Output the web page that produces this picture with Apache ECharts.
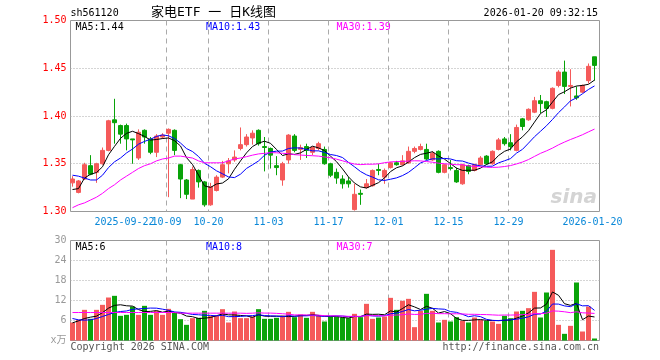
<!DOCTYPE html>
<html><head><meta charset="utf-8">
<script src="https://cdn.jsdelivr.net/npm/echarts@6/dist/echarts.min.js"></script>
<style>html,body{margin:0;padding:0;background:#fff}#c{width:660px;height:360px}</style>
</head><body><div id="c"></div>
<script>
// ---- data ----
const tickIndex = [9, 16, 23, 33, 43, 53, 63, 73, 87];
const tickLabels = ['2025-09-22', '10-09', '10-20', '11-03', '11-17', '12-01', '12-15', '12-29', '2026-01-20'];

const opens = [
1.330,1.320,1.334,1.348,1.341,1.350,1.364,1.396,1.390,1.390,
1.376,1.356,1.385,1.376,1.362,1.378,1.382,1.385,1.349,1.333,
1.313,1.343,1.331,1.307,1.322,1.336,1.350,1.354,1.366,1.370,
1.377,1.385,1.368,1.366,1.348,1.333,1.354,1.379,1.365,1.368,
1.362,1.366,1.365,1.350,1.341,1.334,1.332,1.302,1.319,1.325,
1.327,1.344,1.336,1.346,1.351,1.349,1.351,1.363,1.365,1.365,
1.354,1.363,1.341,1.346,1.343,1.329,1.348,1.343,1.349,1.358,
1.350,1.365,1.376,1.372,1.364,1.397,1.396,1.404,1.416,1.415,
1.408,1.432,1.446,1.431,1.421,1.425,1.437,1.462];
const closes = [
1.334,1.332,1.349,1.339,1.350,1.364,1.395,1.393,1.381,1.376,
1.375,1.383,1.378,1.362,1.379,1.380,1.386,1.364,1.334,1.318,
1.344,1.331,1.307,1.326,1.336,1.349,1.353,1.357,1.370,1.378,
1.382,1.371,1.367,1.359,1.346,1.350,1.380,1.364,1.367,1.364,
1.367,1.371,1.350,1.338,1.335,1.329,1.329,1.318,1.318,1.329,
1.343,1.343,1.343,1.351,1.349,1.353,1.363,1.366,1.368,1.355,
1.361,1.341,1.349,1.345,1.331,1.349,1.342,1.349,1.356,1.350,
1.363,1.375,1.371,1.368,1.388,1.389,1.407,1.416,1.413,1.408,
1.429,1.446,1.431,1.432,1.419,1.432,1.452,1.453];
const lows = [
1.326,1.319,1.333,1.338,1.330,1.349,1.363,1.371,1.371,1.364,
1.350,1.354,1.371,1.360,1.357,1.376,1.315,1.359,1.314,1.313,
1.313,1.325,1.305,1.306,1.321,1.335,1.340,1.352,1.364,1.368,
1.370,1.369,1.342,1.345,1.338,1.327,1.350,1.362,1.354,1.356,
1.359,1.364,1.349,1.336,1.329,1.324,1.325,1.301,1.307,1.324,
1.326,1.338,1.329,1.345,1.348,1.348,1.350,1.361,1.364,1.354,
1.353,1.340,1.340,1.343,1.330,1.328,1.339,1.342,1.348,1.349,
1.349,1.364,1.369,1.364,1.363,1.385,1.395,1.403,1.403,1.399,
1.407,1.430,1.423,1.410,1.417,1.424,1.434,1.437];
const highs = [
1.337,1.333,1.351,1.359,1.351,1.367,1.396,1.418,1.391,1.392,
1.376,1.386,1.386,1.378,1.381,1.382,1.387,1.386,1.350,1.334,
1.347,1.344,1.332,1.330,1.338,1.353,1.356,1.364,1.388,1.381,
1.385,1.386,1.378,1.367,1.358,1.352,1.381,1.381,1.370,1.371,
1.368,1.373,1.368,1.351,1.345,1.338,1.336,1.329,1.323,1.334,
1.344,1.350,1.345,1.352,1.353,1.359,1.368,1.368,1.371,1.371,
1.363,1.364,1.350,1.354,1.346,1.350,1.349,1.350,1.358,1.359,
1.364,1.377,1.378,1.381,1.391,1.398,1.408,1.420,1.422,1.416,
1.430,1.448,1.458,1.449,1.431,1.433,1.455,1.462];

const ma5 = [
1.323,1.324,1.335,1.339,1.3408,1.3468,1.3594,1.3682,1.3766,1.3818,
1.384,1.3816,1.3786,1.3748,1.3754,1.3764,1.377,1.3742,1.3686,1.3564,
1.3492,1.3382,1.3268,1.3252,1.3288,1.3298,1.3342,1.3442,1.353,1.3614,
1.368,1.3716,1.3736,1.3714,1.365,1.3586,1.3604,1.3598,1.3614,1.365,
1.3684,1.3666,1.3638,1.358,1.3522,1.3446,1.3362,1.3298,1.3258,1.3246,
1.3274,1.3302,1.3352,1.3418,1.3458,1.3478,1.3518,1.3564,1.3598,1.361,
1.3626,1.3582,1.3548,1.3502,1.3454,1.343,1.3432,1.3432,1.3454,1.3492,
1.352,1.3586,1.363,1.3654,1.373,1.3782,1.3846,1.3936,1.4026,1.4066,
1.4146,1.4224,1.4254,1.4292,1.4314,1.432,1.4332,1.4376];
const ma10 = [
1.338,1.337,1.335,1.333,1.333,1.338,1.346,1.352,1.356,1.3613,
1.3654,1.3705,1.3734,1.3757,1.3786,1.3802,1.3793,1.3764,1.3717,1.3659,
1.3628,1.3576,1.3505,1.3469,1.3426,1.3395,1.3362,1.3355,1.3391,1.3451,
1.3489,1.3529,1.3589,1.3622,1.3632,1.3633,1.366,1.3667,1.3664,1.365,
1.3635,1.3635,1.3618,1.3597,1.3586,1.3565,1.3514,1.3468,1.3419,1.3384,
1.336,1.3332,1.3325,1.3338,1.3352,1.3376,1.341,1.3458,1.3508,1.3534,
1.3552,1.355,1.3556,1.355,1.3532,1.3528,1.3507,1.349,1.3478,1.3473,
1.3475,1.3509,1.3531,1.3554,1.3611,1.3651,1.3716,1.3783,1.384,1.3898,
1.3964,1.4035,1.4095,1.4159,1.419,1.4233,1.4278,1.4315];
const ma30 = [
1.304,1.307,1.309,1.312,1.315,1.319,1.324,1.328,1.333,1.337,
1.341,1.345,1.348,1.350,1.353,1.355,1.356,1.358,1.358,1.357,
1.356,1.353,1.351,1.351,1.351,1.351,1.353,1.355,1.356,1.3574,
1.359,1.3603,1.3609,1.3616,1.3615,1.361,1.3605,1.3595,1.3591,1.3587,
1.3584,1.358,1.3571,1.3563,1.3548,1.3531,1.3512,1.3497,1.3491,1.3495,
1.3495,1.3499,1.3511,1.3519,1.3523,1.3525,1.3528,1.3531,1.353,1.3523,
1.3516,1.3506,1.35,1.3495,1.349,1.349,1.3477,1.3472,1.3468,1.3464,
1.3462,1.3464,1.3471,1.3481,1.3498,1.3518,1.3544,1.3577,1.3609,1.3635,
1.3664,1.3698,1.3727,1.3754,1.3778,1.3804,1.3834,1.3863];

const volumes = [
5.4,6.2,9.2,6.5,9.2,10.7,12.9,13.4,7.4,7.7,
10.2,7.7,10.4,7.7,8.9,7.7,9.5,8.4,6.4,4.7,
6.7,6.8,8.9,7.4,7.4,9.4,5.4,8.7,6.7,6.7,
7.2,9.4,6.5,6.5,6.8,7.4,8.6,7.0,7.8,6.8,
8.6,7.5,5.7,7.2,7.2,6.9,6.7,8.0,7.0,11.0,
6.5,6.9,7.2,12.8,9.2,11.9,12.5,4.0,8.9,14.0,
8.9,5.4,6.2,5.7,7.0,5.9,5.4,6.9,6.2,5.9,
5.7,5.0,7.4,6.7,8.7,8.9,9.7,14.6,6.9,14.4,
27.2,4.7,2.0,4.4,17.4,2.7,10.2,0.6];
const volMa5 = [
5.3,5.9,6.6,7.0,7.3,8.36,9.7,10.54,10.72,10.42,
10.32,9.28,8.68,8.74,8.98,8.48,8.84,8.44,8.18,7.34,
7.14,6.6,6.7,6.9,7.44,7.98,7.7,7.66,7.52,7.38,
6.94,7.74,7.3,7.26,7.28,7.32,7.16,7.26,7.52,7.52,
7.76,7.54,7.28,7.16,7.24,6.9,6.74,7.2,7.16,7.92,
7.84,7.88,7.72,8.88,8.52,9.6,10.72,10.08,9.3,10.26,
9.66,8.24,8.68,8.04,6.64,6.04,6.04,6.18,6.28,6.06,
6.02,5.94,6.04,6.14,6.7,7.34,8.28,9.72,9.76,10.9,
14.56,13.56,11.04,10.54,11.14,6.24,7.34,7.06];
const volMa10 = [
6.6,6.2,6.1,6.2,6.6,7.2,7.8,8.4,8.7,8.86,
9.34,9.49,9.61,9.73,9.7,9.4,9.06,8.56,8.46,8.16,
7.81,7.72,7.57,7.54,7.39,7.56,7.15,7.18,7.21,7.41,
7.46,7.72,7.48,7.39,7.33,7.13,7.45,7.28,7.39,7.4,
7.54,7.35,7.27,7.34,7.38,7.33,7.14,7.24,7.16,7.58,
7.37,7.31,7.46,8.02,8.22,8.72,9.3,8.9,9.09,9.39,
9.63,9.48,9.38,8.67,8.45,7.85,7.14,7.43,7.16,6.35,
6.03,5.99,6.11,6.21,6.38,6.68,7.11,7.88,7.95,8.8,
10.95,10.92,10.38,10.15,11.02,10.4,10.45,9.05];
const volMa30 = [
8.4,8.4,8.4,8.4,8.4,8.4,8.4,8.4,8.4,8.4,
8.4,8.4,8.4,8.4,8.4,8.4,8.4,8.4,8.2,8.2,
8.2,8.2,8.2,8.2,8.2,8.2,8.2,8.2,8.2,8.14,
8.2,8.31,8.22,8.22,8.14,8.03,7.89,7.67,7.69,7.66,
7.6,7.6,7.44,7.42,7.37,7.34,7.25,7.23,7.25,7.46,
7.46,7.46,7.4,7.58,7.64,7.73,7.96,7.81,7.88,8.12,
8.18,8.05,8.04,8.01,8.02,7.97,7.86,7.86,7.8,7.77,
7.68,7.59,7.65,7.63,7.68,7.75,7.85,8.07,8.07,8.18,
8.87,8.8,8.62,8.34,8.62,8.31,8.23,8.12];

const priceAxis = {min: 1.30, max: 1.50, step: 0.05};
const volAxis = {min: 0, max: 30, step: 6};

// ---- chart ----
const UP = '#f55a5a', DOWN = '#09a309';
const MONO = '"DejaVu Sans Mono", "Noto Sans CJK SC", monospace';
const FRAME = '#999', GRIDC = '#aaa';
const idx = opens.map((_, i) => i);
const candleData = idx.map(i => [i, opens[i], closes[i], lows[i], highs[i]]);
const volData = idx.map(i => ({value: [i, volumes[i]], itemStyle: {color: closes[i] >= opens[i] ? UP : DOWN}}));
const pts = arr => idx.map(i => [i, arr[i]]);

const OFF = 1 / 3;           // split lines sit just left of bar centres
const xMin = -OFF, xMax = 529 / 6 - OFF;
const tickPos = tickIndex.map(i => i - OFF);
const labelFor = v => { for (let k = 0; k < tickPos.length; k++) if (Math.abs(tickPos[k] - v) < 0.01) return tickLabels[k]; return ''; };
// labels split over two axes so that touching labels are both kept
const labelsA = tickPos.filter((_, k) => k !== 1);
const labelsB = [tickPos[1]];

const xAxisDef = (gi, labelVals, showSplit) => ({
  type: 'value', gridIndex: gi, min: xMin, max: xMax, position: 'bottom',
  axisLine: {show: false},
  axisTick: {show: false, customValues: showSplit ? tickPos : labelVals},
  axisLabel: {show: !!labelVals, customValues: labelVals || tickPos, formatter: labelFor, color: '#0a88d8',
              fontFamily: MONO, fontSize: 10, margin: 6, hideOverlap: false, showMinLabel: true, showMaxLabel: true},
  splitLine: {show: showSplit, showMinLine: false, showMaxLine: false, lineStyle: {color: GRIDC, type: [5, 4], width: 1}}
});

const line = (xi, data, color, name) => ({
  name, type: 'line', xAxisIndex: xi, yAxisIndex: xi, data, showSymbol: false, symbol: 'none',
  lineStyle: {color, width: 1}, silent: true, z: 3
});

const txt = (x, y, text, fill, align, size) => ({
  type: 'text', x, y, silent: true,
  style: {text, fill, font: (size || 10) + 'px ' + MONO, align: align || 'left', verticalAlign: 'middle'}
});

const chart = echarts.init(document.getElementById('c'), null, {renderer: 'canvas'});
chart.setOption({
  animation: false,
  backgroundColor: '#fff',
  grid: [
    {left: 70.5, top: 20.5, width: 529, height: 191, show: true, borderColor: FRAME, borderWidth: 1, backgroundColor: 'transparent'},
    {left: 70.5, top: 240.5, width: 529, height: 100, show: true, borderColor: FRAME, borderWidth: 1, backgroundColor: 'transparent'}
  ],
  xAxis: [xAxisDef(0, labelsA, true), xAxisDef(1, null, true), xAxisDef(0, labelsB, false)],
  yAxis: [
    {type: 'value', gridIndex: 0, min: priceAxis.min, max: priceAxis.max, interval: priceAxis.step,
     axisLine: {show: false}, axisTick: {show: false},
     axisLabel: {color: '#f00', fontFamily: MONO, fontSize: 10, margin: 4, formatter: v => v.toFixed(2)},
     splitLine: {show: true, showMinLine: false, showMaxLine: false, lineStyle: {color: GRIDC, type: [1, 2]}}},
    {type: 'value', gridIndex: 1, min: volAxis.min, max: volAxis.max, interval: volAxis.step,
     axisLine: {show: false}, axisTick: {show: false},
     axisLabel: {color: '#999', fontFamily: MONO, fontSize: 10, margin: 4, formatter: v => v === 0 ? 'x万' : String(v)},
     splitLine: {show: true, showMinLine: false, showMaxLine: false, lineStyle: {color: GRIDC, type: [1, 2]}}}
  ],
  series: [
    {type: 'candlestick', xAxisIndex: 0, yAxisIndex: 0, data: candleData, barWidth: 5, z: 2,
     itemStyle: {color: UP, color0: DOWN, borderColor: UP, borderColor0: DOWN, borderWidth: 1}},
    line(0, pts(ma5), '#000', 'MA5'),
    line(0, pts(ma10), '#0000ff', 'MA10'),
    line(0, pts(ma30), '#ff00ff', 'MA30'),
    {type: 'bar', xAxisIndex: 1, yAxisIndex: 1, data: volData, barWidth: 5, z: 2},
    line(1, pts(volMa5), '#000', 'VMA5'),
    line(1, pts(volMa10), '#0000ff', 'VMA10'),
    line(1, pts(volMa30), '#ff00ff', 'VMA30')
  ],
  graphic: [
    txt(70.5, 13, 'sh561120', '#000'),
    txt(151, 13, '家电ETF 一 日K线图', '#000', 'left', 13),
    txt(598, 13, '2026-01-20 09:32:15', '#000', 'right'),
    txt(75.5, 27, 'MA5:1.44', '#000'),
    txt(206, 27, 'MA10:1.43', '#0000ff'),
    txt(336.5, 27, 'MA30:1.39', '#ff00ff'),
    txt(75.5, 247, 'MA5:6', '#000'),
    txt(206, 247, 'MA10:8', '#0000ff'),
    txt(336.5, 247, 'MA30:7', '#ff00ff'),
    txt(70.5, 347, 'Copyright 2026 SINA.COM', '#555'),
    txt(599, 347, 'http://finance.sina.com.cn', '#555', 'right'),
    {type: 'text', x: 597, y: 198, silent: true,
     style: {text: 'sina', fill: '#d4d4d4', font: 'italic bold 20px "DejaVu Sans", sans-serif', align: 'right', verticalAlign: 'middle'}}
  ]
});
</script>
</body></html>
